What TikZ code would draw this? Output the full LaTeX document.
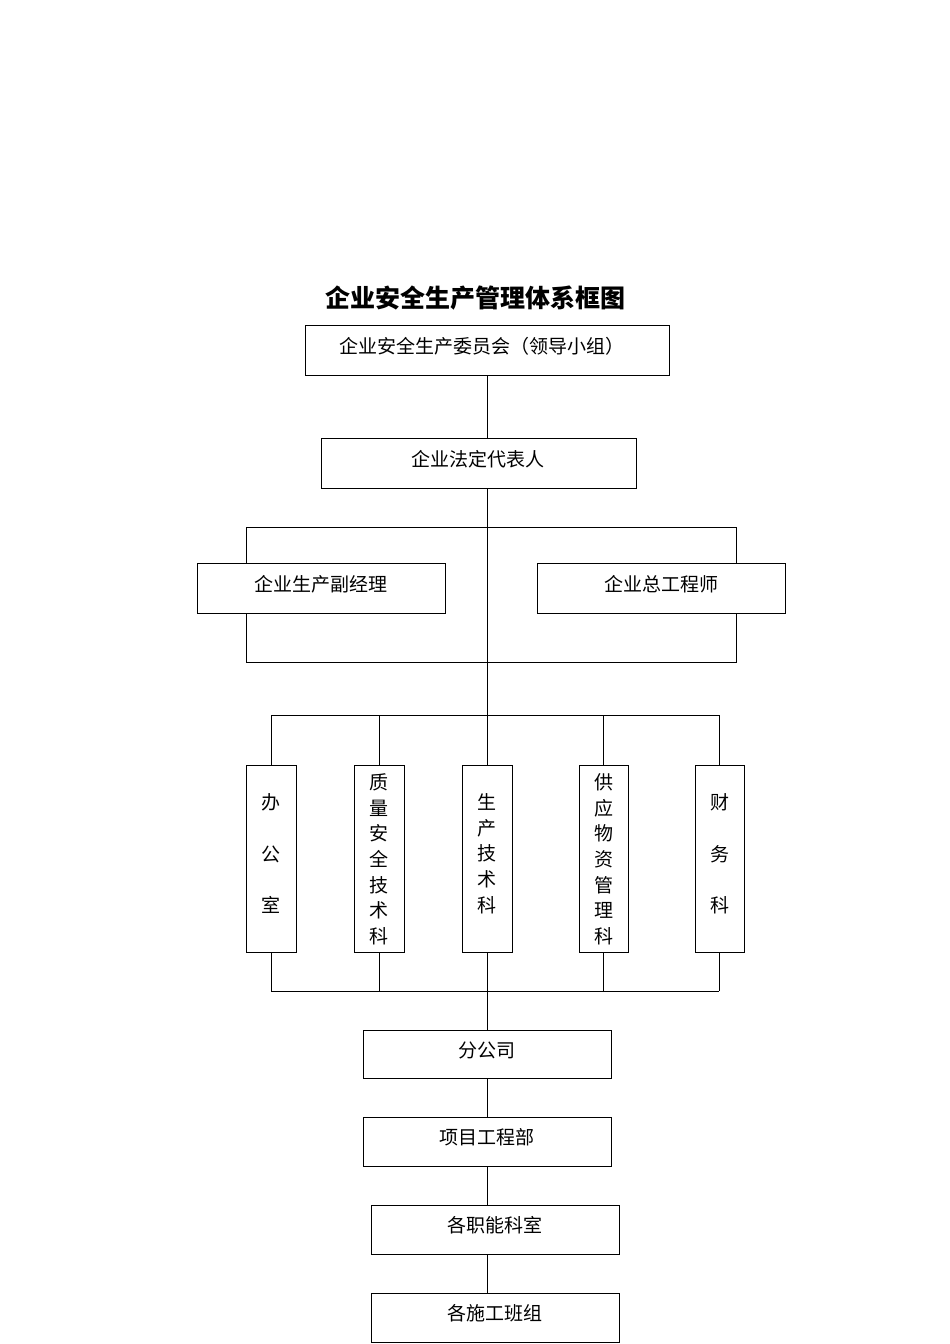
\documentclass[tikz,border=0pt]{standalone}
\usepackage{fontspec}
\setmainfont{Noto Sans CJK SC}
\newfontfamily\cjk{Noto Sans CJK SC}
\begin{document}
\begin{tikzpicture}[x=1pt,y=-1pt,
  bx/.style={draw,line width=0.9pt,inner sep=0pt},
  ln/.style={line width=0.9pt},
  lbl/.style={font=\fontsize{19}{19}\selectfont\cjk},
  vl/.style={font=\fontsize{19}{25.7}\selectfont\cjk,align=center}]
\useasboundingbox (0,0) rectangle (950,1344);
\node[font=\fontsize{25}{25}\selectfont\bfseries\cjk] (title) at (475,298) {企业安全生产管理体系框图};
% top boxes
\node[bx,minimum width=364pt,minimum height=50pt] (b1) at (487,350) {};
\node[lbl] at (482,346) {企业安全生产委员会（领导小组）};
\node[bx,minimum width=315pt,minimum height=50pt] (b2) at (478.5,463) {};
\node[lbl] at (478,459) {企业法定代表人};
\node[bx,minimum width=248pt,minimum height=50pt] (b3) at (321,588) {};
\node[lbl] at (321,584) {企业生产副经理};
\node[bx,minimum width=248pt,minimum height=50pt] (b4) at (661,588) {};
\node[lbl] at (661,584) {企业总工程师};
\coordinate (tl) at (246,527); \coordinate (tr) at (736,527);
\coordinate (bl) at (246,662); \coordinate (br) at (736,662);
\draw[ln] (487,375) -- (487,438);
\draw[ln] (487,488) -- (487,715);
\draw[ln] (246,563) -- (tl) -- (tr) -- (736,563);
\draw[ln] (246,613) -- (bl) -- (br) -- (736,613);
% departments
\draw[ln] (271,715) -- (719,715);
\draw[ln] (271,991) -- (719,991);
\foreach \x/\n/\t/\w in {271/d1/{办\\[26pt]公\\[26pt]室}/50, 379/d2/{质\\量\\安\\全\\技\\术\\科}/50, 487/d3/{生\\产\\技\\术\\科}/50, 603.5/d4/{供\\应\\物\\资\\管\\理\\科}/49, 719.5/d5/{财\\[26pt]务\\[26pt]科}/49}{
  \node[bx,minimum width=\w pt,minimum height=187pt] (\n) at (\x,858.5) {};
  \draw[ln] (\x,715) -- (\n.north);
  \draw[ln] (\n.south) -- (\x,991);
}
\node[vl,anchor=north] at (271,790) {办\\[26pt]公\\[26pt]室};
\node[vl,anchor=north] at (379,770) {质\\量\\安\\全\\技\\术\\科};
\node[vl,anchor=north] at (487,790) {生\\产\\技\\术\\科};
\node[vl,anchor=north] at (603.5,770) {供\\应\\物\\资\\管\\理\\科};
\node[vl,anchor=north] at (719.5,790) {财\\[26pt]务\\[26pt]科};
% lower chain
\node[bx,minimum width=248pt,minimum height=48pt] (c1) at (487,1054) {};
\node[lbl] at (487,1050) {分公司};
\node[bx,minimum width=248pt,minimum height=49pt] (c2) at (487,1141.5) {};
\node[lbl] at (487,1137) {项目工程部};
\node[bx,minimum width=248pt,minimum height=49pt] (c3) at (495,1229.5) {};
\node[lbl] at (495,1225) {各职能科室};
\node[bx,minimum width=248pt,minimum height=49pt] (c4) at (495,1317.5) {};
\node[lbl] at (495,1313) {各施工班组};
\draw[ln] (487,991) -- (487,1030);
\draw[ln] (487,1078) -- (487,1117);
\draw[ln] (487,1166) -- (487,1205);
\draw[ln] (487,1254) -- (487,1293);
\end{tikzpicture}
\end{document}
